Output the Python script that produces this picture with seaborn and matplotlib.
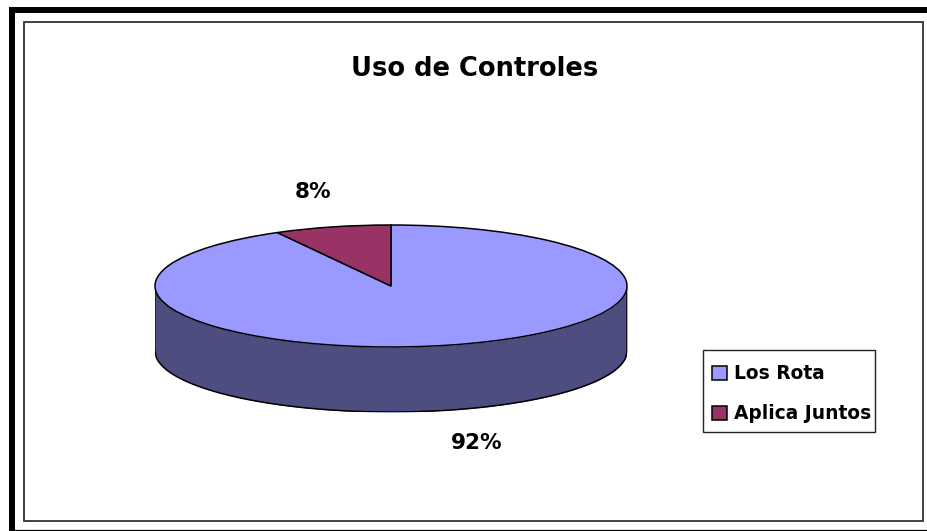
import numpy as np
import seaborn as sns
import matplotlib.pyplot as plt
from matplotlib.patches import Rectangle

title = "Uso de Controles"
categories = ["Los Rota", "Aplica Juntos"]
values = [92, 8]
pct_labels = ["92%", "8%"]

W, H = 928, 531
colors = sns.color_palette(["#9999FF", "#993366"])
wall_color = "#4D4D80"
depth = 65 / 61  # wall height in units of the squashed radius

sns.set_theme(style="white")
plt.rcParams["font.family"] = ["DejaVu Sans"]
plt.rcParams["font.weight"] = "bold"

fig = plt.figure(figsize=(W / 100, H / 100), dpi=100, facecolor="white")


def px_rect(x0, y0, x1, y1, **kw):
    fig.add_artist(Rectangle((x0 / W, 1 - y1 / H), (x1 - x0) / W, (y1 - y0) / H,
                             transform=fig.transFigure, **kw))


# outer frame, thick on the left and top, inner thin frame
px_rect(12, 10, 940, 530, fill=False, edgecolor="black", linewidth=0.9)
px_rect(9, 7, 15, 531, facecolor="black", edgecolor="none")
px_rect(9, 7, 928, 13, facecolor="black", edgecolor="none")
px_rect(24.5, 21.5, 923, 520.5, fill=False, edgecolor="#333333", linewidth=1.3)
# legend box
px_rect(703.5, 349.5, 875, 432, facecolor="white", edgecolor="#222222", linewidth=1)

ax = fig.add_axes([155 / W, 1 - 412 / H, (627 - 155) / W, (412 - 225) / H])

# side wall of the disc
x = np.linspace(-1, 1, 400)
rim = -np.sqrt(1 - x ** 2)
ax.fill_between(x, rim, rim - depth, color=wall_color, zorder=1, linewidth=0)
ax.plot(x, rim - depth, color="black", lw=1.1, zorder=1.5)
ax.plot([-1, -1], [0, -depth], color="black", lw=1.1, zorder=1.5)
ax.plot([1, 1], [0, -depth], color="black", lw=1.1, zorder=1.5)

# first slice starts so that the small one ends at twelve o'clock
start = 90 + 360 * values[1] / sum(values)
wedges, _ = ax.pie(values, colors=colors, startangle=start, radius=1,
                   wedgeprops=dict(edgecolor="black", linewidth=1.1, zorder=2))
for w in wedges:
    w.set_zorder(2)
ax.set_aspect("auto")
ax.set_xlim(-1, 1)
ax.set_ylim(-1 - depth, 1)
ax.axis("off")

ax.text(0.364, -2.58, pct_labels[0], ha="center", va="center", fontsize=15.5,
        fontweight="bold", color="black", clip_on=False)
ax.text(-0.33, 1.54, pct_labels[1], ha="center", va="center", fontsize=15.5,
        fontweight="bold", color="black", clip_on=False)

fig.text(475 / W, 1 - 69 / H, title, ha="center", va="center", fontsize=18.5,
         fontweight="bold", color="black")

leg = fig.legend(wedges, categories, loc="upper left",
                 bbox_to_anchor=(712 / W, 1 - 364 / H), bbox_transform=fig.transFigure,
                 fontsize=13.4, frameon=False, handlelength=0.78, handleheight=0.78,
                 handletextpad=0.4, labelspacing=1.14, borderpad=0, borderaxespad=0)
for t in leg.get_texts():
    t.set_fontweight("bold")
    t.set_color("black")

fig.savefig("out.png", dpi=100, facecolor="white")
